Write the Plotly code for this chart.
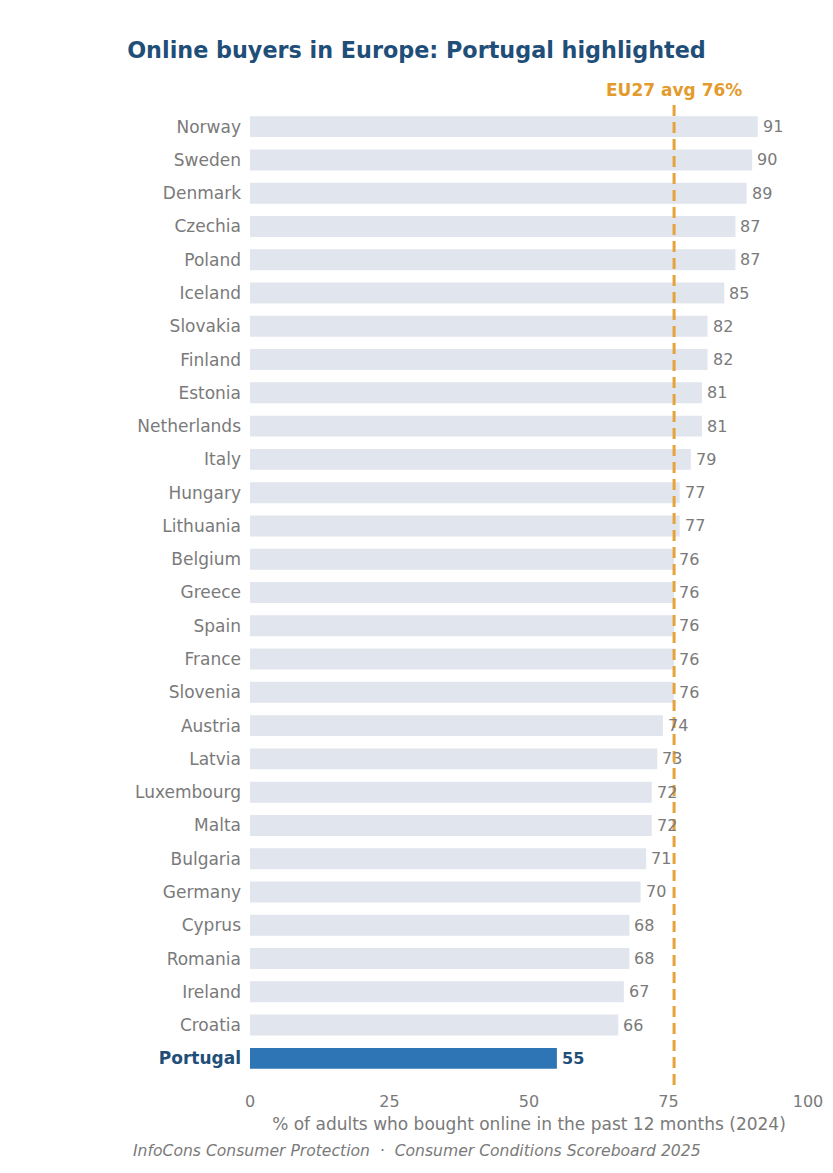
import plotly.graph_objects as go

countries = ["Norway", "Sweden", "Denmark", "Czechia", "Poland", "Iceland", "Slovakia",
             "Finland", "Estonia", "Netherlands", "Italy", "Hungary", "Lithuania", "Belgium",
             "Greece", "Spain", "France", "Slovenia", "Austria", "Latvia", "Luxembourg",
             "Malta", "Bulgaria", "Germany", "Cyprus", "Romania", "Ireland", "Croatia", "Portugal"]
values = [91, 90, 89, 87, 87, 85, 82, 82, 81, 81, 79, 77, 77, 76, 76, 76, 76, 76, 74, 73,
          72, 72, 71, 70, 68, 68, 67, 66, 55]
highlight = "Portugal"
eu_avg = 76
x_ticks = [0, 25, 50, 75, 100]

FONT = "DejaVu Sans"
GRAY = "#7a7a7a"
DARK = "#1F4E79"
HL = "#2E75B6"
BASE = "#E1E6EE"
ORANGE = "#E39B2E"

W, H = 817, 1157
ML, MR, MT, MB = 242, 17, 92, 80

colors = [HL if c == highlight else BASE for c in countries]
ticktext = [f"<b><span style='color:{DARK}'>{c}</span></b>" if c == highlight else c for c in countries]

fig = go.Figure()
fig.add_trace(go.Bar(x=values, y=countries, orientation="h", marker=dict(color=colors, line=dict(width=0)),
                     width=0.63, hoverinfo="skip"))

fig.add_shape(type="line", xref="x", yref="paper", x0=eu_avg, x1=eu_avg, y0=0, y1=1,
              line=dict(color="#E5A33A", width=3, dash="11px,6px"), layer="above")

for c, v in zip(countries, values):
    hl = c == highlight
    fig.add_annotation(x=v, y=c, xref="x", yref="y", xanchor="left", yanchor="middle",
                       xshift=3, showarrow=False,
                       text=f"<b>{v}</b>" if hl else str(v),
                       font=dict(family=FONT, size=16, color=DARK if hl else GRAY))

fig.add_annotation(x=eu_avg, y=1, xref="x", yref="paper", yanchor="bottom", yshift=-2,
                   showarrow=False, text=f"<b>EU27 avg {eu_avg}%</b>",
                   font=dict(family=FONT, size=17, color=ORANGE))

pw = W - ML - MR
fig.add_annotation(x=(W / 2 - ML) / pw, y=0, xref="paper", yref="paper", yanchor="middle", yshift=-66,
                   xanchor="center", showarrow=False,
                   text="<i>InfoCons Consumer Protection  ·  Consumer Conditions Scoreboard 2025</i>",
                   font=dict(family=FONT, size=15.6, color=GRAY))

fig.update_layout(
    width=W, height=H,
    margin=dict(l=ML, r=MR, t=MT, b=MB),
    plot_bgcolor="white", paper_bgcolor="white",
    showlegend=False,
    title=dict(text="<b>Online buyers in Europe: Portugal highlighted</b>", x=0.5, xanchor="center",
               y=1 - 42 / H, yanchor="middle", font=dict(family=FONT, size=22.3, color=DARK)),
    xaxis=dict(range=[0, 100], tickvals=x_ticks, showgrid=False, zeroline=False, showline=False,
               ticklabelstandoff=5, automargin=False,
               tickfont=dict(family=FONT, size=16, color=GRAY),
               title=dict(text="% of adults who bought online in the past 12 months (2024)",
                          font=dict(family=FONT, size=17, color=GRAY), standoff=8)),
    yaxis=dict(categoryorder="array", categoryarray=countries, range=[28.8, -0.8],
               tickvals=countries, ticktext=ticktext, showgrid=False, zeroline=False,
               showline=False, ticklabelstandoff=8, automargin=False,
               tickfont=dict(family=FONT, size=17, color=GRAY)),
)

fig.write_html("out.html")
